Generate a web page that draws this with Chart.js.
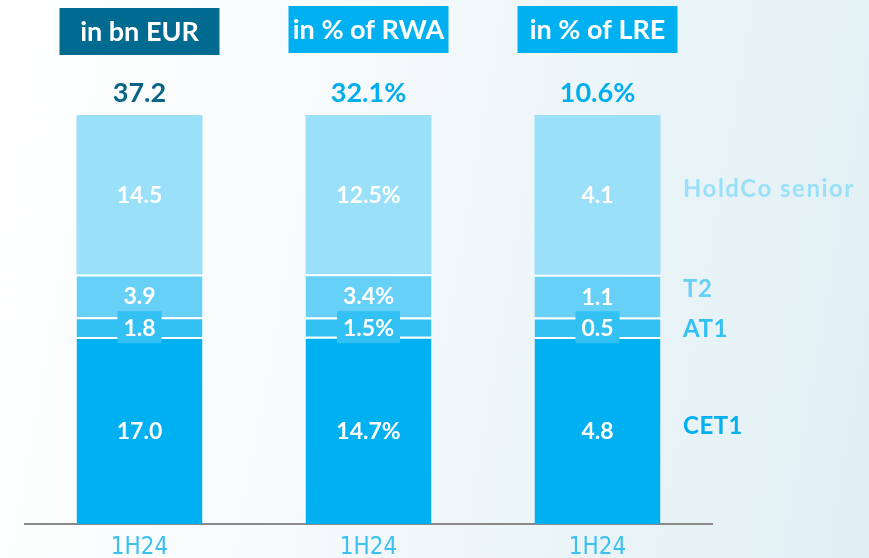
<!DOCTYPE html>
<html lang="en">
<head>
    <meta charset="UTF-8">
    <title>MREL capacity 1H24</title>
    <script src="https://cdn.jsdelivr.net/npm/chart.js@4.4.1/dist/chart.umd.min.js"></script>
    <style>
        html, body {
            margin: 0;
            padding: 0;
            width: 869px;
            height: 558px;
            overflow: hidden;
        }
        body {
            background: linear-gradient(100deg, #ffffff 0%, #f7fbfc 35%, #eaf4f7 70%, #e1f0f5 100%);
            font-family: Lato, 'Noto Sans', sans-serif;
        }
        #wrap {
            position: relative;
            width: 869px;
            height: 558px;
            overflow: hidden;
        }
    </style>
</head>
<body>
    <div id="wrap">
        <!-- slightly taller than the page so the axis labels get cut at the bottom edge -->
        <canvas id="mrelChart" width="869" height="572"></canvas>
    </div>

    <script>
        // Values per column: bn EUR, % of RWA, % of LRE
        const categories = ['1H24', '1H24', '1H24'];
        const panelTitles = ['in bn EUR', 'in % of RWA', 'in % of LRE'];
        const segmentUnits = ['', '%', ''];
        const totalUnits = ['', '%', '%'];
        const totals = [37.2, 32.1, 10.6];

        const seriesNames = ['CET1', 'AT1', 'T2', 'HoldCo senior'];
        const cet1 = [17.0, 14.7, 4.8];
        const at1 = [1.8, 1.5, 0.5];
        const t2 = [3.9, 3.4, 1.1];
        const holdco = [14.5, 12.5, 4.1];

        const seriesValues = [cet1, at1, t2, holdco];
        const seriesColors = ['#00b0f0', '#33c1f3', '#66d0f6', '#9be0f9'];
        const titleColors = ['#006a90', '#00b0f0', '#00b0f0'];
        const totalColors = ['#0a6488', '#00aeef', '#00aeef'];
        const FONT = "Lato, 'Noto Sans', sans-serif";

        // one dataset per segment and column, each column on its own hidden y scale
        const datasets = [];
        seriesValues.forEach(function (vals, s) {
            categories.forEach(function (c, b) {
                const data = categories.map(function (_, i) { return i === b ? vals[b] : null; });
                datasets.push({
                    label: seriesNames[s],
                    series: s,
                    column: b,
                    data: data,
                    yAxisID: 'y' + b,
                    stack: 'all',
                    backgroundColor: seriesColors[s],
                    borderColor: '#ffffff',
                    borderWidth: s < 3 ? { top: 2, left: 0, right: 0, bottom: 0 } : 0,
                    borderSkipped: false
                });
            });
        });

        const scales = {
            x: {
                offset: true,
                grid: { display: false, drawTicks: false },
                border: { display: true, color: '#8a8a8a', width: 2 },
                ticks: {
                    color: '#3cc0f0',
                    padding: 12,
                    font: { family: "'Liberation Sans Narrow', 'DejaVu Sans Condensed', sans-serif", size: 24, lineHeight: 1 }
                }
            }
        };
        categories.forEach(function (c, b) {
            const colSum = seriesValues.reduce(function (a, v) { return a + v[b]; }, 0);
            scales['y' + b] = {
                display: false,
                stacked: true,
                min: 0,
                max: colSum
            };
        });

        const labelPlugin = {
            id: 'mrelLabels',
            afterDatasetsDraw: function (chart) {
                const ctx = chart.ctx;
                ctx.save();
                ctx.textAlign = 'center';
                ctx.textBaseline = 'middle';

                chart.data.datasets.forEach(function (ds, i) {
                    const b = ds.column;
                    const el = chart.getDatasetMeta(i).data[b];
                    if (!el) return;
                    const cy = (el.y + el.base) / 2;
                    const txt = ds.data[b].toFixed(1) + segmentUnits[b];
                    ctx.font = 'bold 23px ' + FONT;
                    if (ds.series === 1) {
                        // small segment: label sits on a tag in the segment colour
                        const w = ctx.measureText(txt).width + 12;
                        ctx.fillStyle = seriesColors[1];
                        ctx.fillRect(el.x - w / 2, cy - 16, w, 32);
                    }
                    ctx.fillStyle = '#ffffff';
                    ctx.fillText(txt, el.x, cy + 1);

                    // series names to the right of the last column
                    if (b === categories.length - 1) {
                        ctx.save();
                        ctx.textAlign = 'left';
                        ctx.fillStyle = seriesColors[ds.series];
                        ctx.font = 'bold 24px ' + FONT;
                        ctx.letterSpacing = ds.series === 3 ? '1.5px' : '0.5px';
                        const nudge = [-4, 2, -7, -6][ds.series];
                        ctx.fillText(ds.label, 683, cy + nudge);
                        ctx.restore();
                    }
                });

                // header tags and totals above each column
                const area = chart.chartArea;
                categories.forEach(function (c, b) {
                    const el = chart.getDatasetMeta(b).data[b];
                    const x = el.x;
                    const top = b === 0 ? 8 : 6;
                    ctx.fillStyle = titleColors[b];
                    ctx.fillRect(x - 80, top, 160, 47);
                    ctx.fillStyle = '#ffffff';
                    ctx.font = 'bold 27px ' + FONT;
                    ctx.fillText(panelTitles[b], x, top + 24);

                    ctx.fillStyle = totalColors[b];
                    ctx.font = 'bold 27px ' + FONT;
                    ctx.fillText(totals[b].toFixed(1) + totalUnits[b], x, area.top - 22);
                });
                ctx.restore();
            }
        };

        new Chart(document.getElementById('mrelChart'), {
            type: 'bar',
            data: {
                labels: categories,
                datasets: datasets
            },
            options: {
                responsive: false,
                animation: false,
                categoryPercentage: 1,
                barPercentage: 0.55,
                layout: {
                    padding: { left: 25, right: 157, top: 115, bottom: 0 }
                },
                plugins: {
                    legend: { display: false },
                    tooltip: { enabled: false }
                },
                scales: scales
            },
            plugins: [labelPlugin]
        });
    </script>
</body>
</html>
